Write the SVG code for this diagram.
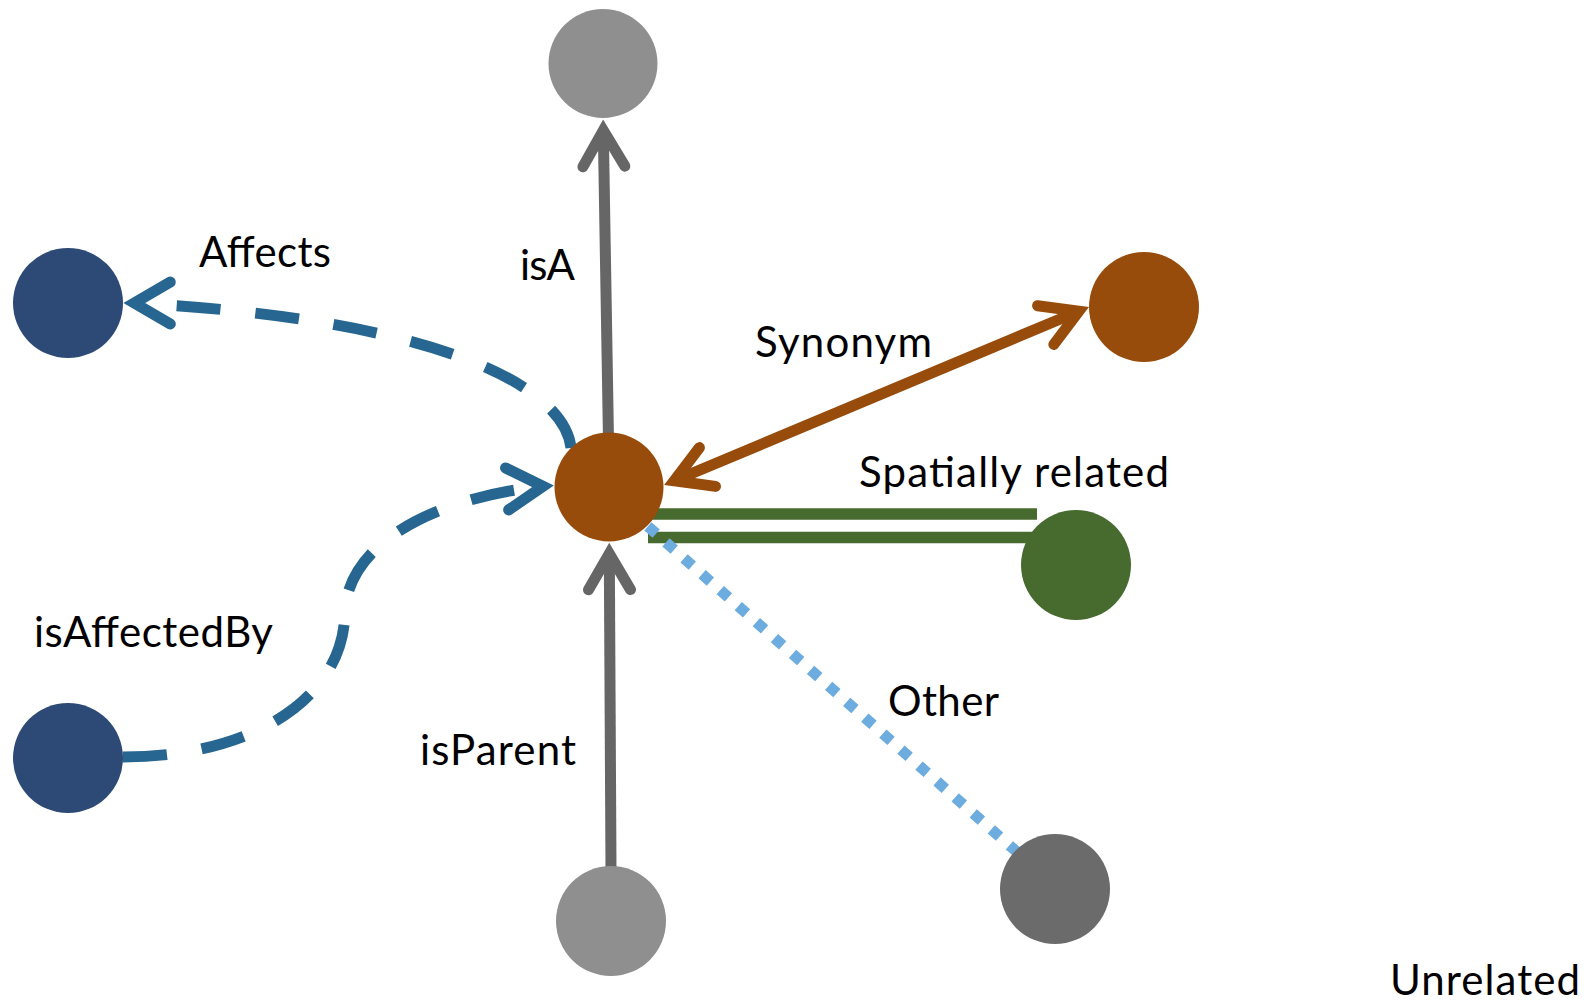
<svg xmlns="http://www.w3.org/2000/svg" xmlns:xlink="http://www.w3.org/1999/xlink" width="1594" height="1003" viewBox="0 0 1594 1003">
  <style>
    .lbl { font-family: "Lato", "Liberation Sans", sans-serif; font-size: 42px; fill: #000; }
    .gray { stroke: #666666; stroke-width: 11; fill: none; }
    .orng { stroke: #974C0B; stroke-width: 11; fill: none; }
    .blue { stroke: #266690; stroke-width: 11; fill: none; }
    .dash { stroke-dasharray: 44 35; }
    .head { fill: none; stroke-width: 11; stroke-linejoin: miter; stroke-linecap: round; }
    .green { stroke: #476A2E; stroke-width: 11.5; fill: none; }
    .dots { stroke: #6DACDE; stroke-width: 11; fill: none; stroke-dasharray: 11 13.1; }
  </style>
  <defs>
    <path id="chev" d="M-36,-21 L0,0 L-36,21"/>
  </defs>
  <rect width="1594" height="1003" fill="#FFFFFF"/>

  <g id="connectors">
    <!-- isA -->
    <line class="gray" x1="608.5" y1="440" x2="603.3" y2="131"/>
    <use href="#chev" class="head" stroke="#666666" transform="translate(603.3,130.5) rotate(-90.9)"/>
    <!-- isParent -->
    <line class="gray" x1="611" y1="870" x2="609.3" y2="554"/>
    <use href="#chev" class="head" stroke="#666666" transform="translate(609.3,553.7) rotate(-90.3)"/>
    <!-- Synonym -->
    <line class="orng" x1="674.2" y1="480.8" x2="1078.9" y2="311.2"/>
    <use href="#chev" class="head" stroke="#974C0B" transform="translate(674.2,480.8) rotate(157.5)"/>
    <use href="#chev" class="head" stroke="#974C0B" transform="translate(1078.9,311.2) rotate(-22.7)"/>
    <!-- Spatially related -->
    <line class="green" x1="640" y1="514" x2="1037" y2="514"/>
    <line class="green" x1="648" y1="537.5" x2="1050" y2="537.5"/>
    <!-- Other -->
    <line class="dots" x1="647.9" y1="526.4" x2="1017" y2="852"/>
    <!-- Affects -->
    <path class="blue dash" d="M571,448 C565,390 450,320 134,303"/>
    <use href="#chev" class="head" stroke="#266690" transform="translate(134.3,303) rotate(180)"/>
    <!-- isAffectedBy -->
    <path class="blue dash" d="M123,757 C250,757 345,700 345,610 C350,540 440,497 543,486.3"/>
    <use href="#chev" class="head" stroke="#266690" transform="translate(543,486.3) rotate(-4.2)"/>
  </g>

  <g id="node-center"><circle cx="609" cy="487" r="54.5" fill="#974C0B"/></g>
  <g id="node-isA"><circle cx="603" cy="63.5" r="54.5" fill="#8F8F8F"/></g>
  <g id="node-isParent"><circle cx="611" cy="921" r="55" fill="#8F8F8F"/></g>
  <g id="node-affects"><circle cx="68" cy="303" r="55" fill="#2D4A76"/></g>
  <g id="node-isAffectedBy"><circle cx="68" cy="758" r="55" fill="#2D4A76"/></g>
  <g id="node-synonym"><circle cx="1144" cy="307" r="55" fill="#974C0B"/></g>
  <g id="node-spatial"><circle cx="1076" cy="565" r="55" fill="#476A2E"/></g>
  <g id="node-other"><circle cx="1055" cy="889" r="55" fill="#6B6B6B"/></g>

  <g id="labels">
    <text class="lbl" x="199" y="267" textLength="132">Affects</text>
    <text class="lbl" x="520" y="280" textLength="55">isA</text>
    <text class="lbl" x="755" y="357" textLength="177">Synonym</text>
    <text class="lbl" x="859" y="487" textLength="310">Spatially related</text>
    <text class="lbl" x="34" y="647" textLength="239">isAffectedBy</text>
    <text class="lbl" x="420" y="765" textLength="156">isParent</text>
    <text class="lbl" x="888" y="716" textLength="111">Other</text>
    <text class="lbl" x="1390" y="995" textLength="190">Unrelated</text>
  </g>
</svg>
